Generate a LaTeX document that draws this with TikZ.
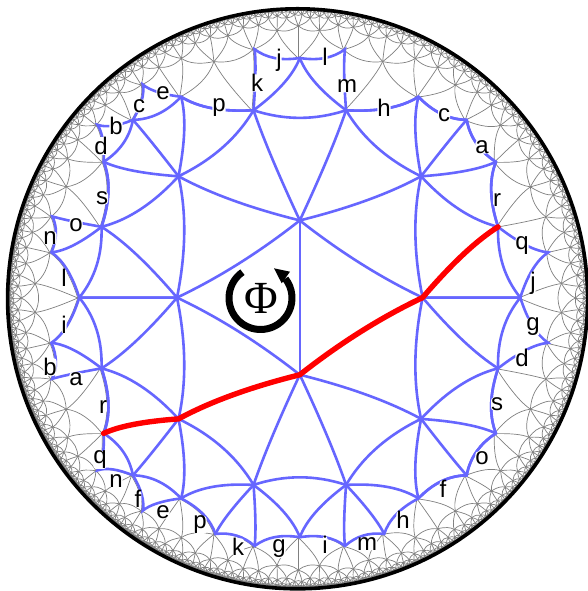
\documentclass[tikz,border=0pt]{standalone}
\usepackage{fontspec}
\setmainfont{Liberation Sans}
\newfontfamily\phifont{Liberation Serif}
\definecolor{gridgray}{HTML}{808080}
\definecolor{edgeblue}{HTML}{6666FF}
\tikzset{
  blueedge/.style={draw=edgeblue,line width=2.6pt,line cap=round,line join=round},
  blueoutline/.style={draw=edgeblue,line width=2.6pt,line join=miter,miter limit=6},
  redpath/.style={draw=red,line width=5.4pt,line cap=round,line join=round},
  rim/.style={draw=black,line width=3.6pt},
  ring/.style={draw=black,line width=7pt},
  lab/.style={font=\fontsize{24}{25}\selectfont,fill=white,inner sep=0pt,rounded corners=3pt,text=black},
}
\makeatletter
\def\RR{19005440}   % disc radius 290pt in sp
\def\OX{19549389}   % grid centre x 298.3pt
\def\OY{19202048}   % grid centre y 293pt
\def\LAM{12469796}  % 2cos(2pi/7) *1e7
\def\KAP{23047650}  % sqrt(2+2cosh a) *1e7
\def\Tm{400000000}
\newcount\qh \newcount\qt
\def\Hx#1{\csname hx@#1\endcsname}
\def\Hy#1{\csname hy@#1\endcsname}
\def\Ht#1{\csname ht@#1\endcsname}
\def\vtx#1#2#3#4{%
  \expandafter\edef\csname hx@#1\endcsname{#2}%
  \expandafter\edef\csname hy@#1\endcsname{#3}%
  \expandafter\edef\csname ht@#1\endcsname{#4}}
\def\refl#1#2#3#4{\vtx{#1}%
  {\the\numexpr(\Hx{#2}+\Hx{#3})*\LAM/10000000-\Hx{#4}\relax}%
  {\the\numexpr(\Hy{#2}+\Hy{#3})*\LAM/10000000-\Hy{#4}\relax}%
  {\the\numexpr(\Ht{#2}+\Ht{#3})*\LAM/10000000-\Ht{#4}\relax}}
\def\mir#1#2#3#4{\vtx{#1}{\the\numexpr#3*\Hx{#2}\relax}{\the\numexpr#4*\Hy{#2}\relax}{\Ht{#2}}}
% geodesic A-B as a cubic through the two ends and the hyperbolic midpoint
\def\geom#1#2#3#4#5#6{%
  \edef\gax{\the\numexpr#1*\RR/(1000000+#3)\relax}%
  \edef\gay{\the\numexpr#2*\RR/(1000000+#3)\relax}%
  \edef\gbx{\the\numexpr#4*\RR/(1000000+#6)\relax}%
  \edef\gby{\the\numexpr#5*\RR/(1000000+#6)\relax}%
  \edef\gmx{\the\numexpr(#1+#4)*10000000/\KAP\relax}%
  \edef\gmy{\the\numexpr(#2+#5)*10000000/\KAP\relax}%
  \edef\gmt{\the\numexpr(#3+#6)*10000000/\KAP\relax}%
  \edef\gmX{\the\numexpr\gmx*\RR/(1000000+\gmt)\relax}%
  \edef\gmY{\the\numexpr\gmy*\RR/(1000000+\gmt)\relax}%
  \edef\gcax{\the\numexpr(4*\gmX-\gbx)/3\relax}%
  \edef\gcay{\the\numexpr(4*\gmY-\gby)/3\relax}%
  \edef\gcbx{\the\numexpr(4*\gmX-\gax)/3\relax}%
  \edef\gcby{\the\numexpr(4*\gmY-\gay)/3\relax}}
\def\gridedge#1#2#3#4#5#6{%
  \edef\key{E\the\numexpr(#1+#4)/100000\relax,\the\numexpr(#2+#5)/100000\relax}%
  \ifcsname\key\endcsname\else
    \expandafter\def\csname\key\endcsname{}%
    \geom{#1}{#2}{#3}{#4}{#5}{#6}%
    \pgfsys@moveto{\the\numexpr\gax+\OX\relax sp}{\the\numexpr\gay+\OY\relax sp}%
    \pgfsys@curveto{\the\numexpr\gcax+\OX\relax sp}{\the\numexpr\gcay+\OY\relax sp}%
                   {\the\numexpr\gcbx+\OX\relax sp}{\the\numexpr\gcby+\OY\relax sp}%
                   {\the\numexpr\gbx+\OX\relax sp}{\the\numexpr\gby+\OY\relax sp}%
    \pgfsys@stroke
  \fi}
\def\nb#1#2#3#4#5#6#7#8#9{%
  \edef\nx{\the\numexpr(#1+#4)*\LAM/10000000-#7\relax}%
  \edef\ny{\the\numexpr(#2+#5)*\LAM/10000000-#8\relax}%
  \edef\nt{\the\numexpr(#3+#6)*\LAM/10000000-#9\relax}%
  \edef\key{T\the\numexpr(#1+#4+\nx)/100000\relax,\the\numexpr(#2+#5+\ny)/100000\relax}%
  \ifcsname\key\endcsname\else
    \expandafter\def\csname\key\endcsname{}%
    \advance\qt1
    \expandafter\xdef\csname q@\the\qt\endcsname{{#1}{#2}{#3}{#4}{#5}{#6}{\nx}{\ny}{\nt}}%
  \fi}
\def\proc#1#2#3#4#5#6#7#8#9{%
  \gridedge{#1}{#2}{#3}{#4}{#5}{#6}%
  \gridedge{#4}{#5}{#6}{#7}{#8}{#9}%
  \gridedge{#7}{#8}{#9}{#1}{#2}{#3}%
  \ifnum#3<\Tm\relax\ifnum#6<\Tm\relax\ifnum#9<\Tm\relax
    \nb{#1}{#2}{#3}{#4}{#5}{#6}{#7}{#8}{#9}%
    \nb{#4}{#5}{#6}{#7}{#8}{#9}{#1}{#2}{#3}%
    \nb{#7}{#8}{#9}{#1}{#2}{#3}{#4}{#5}{#6}%
  \fi\fi\fi}
\def\drawgrid{%
  \qh=0 \qt=2
  \expandafter\xdef\csname q@1\endcsname{{0}{572700}{1152383}{-1031968}{0}{1436996}{0}{-572700}{1152383}}%
  \expandafter\xdef\csname q@2\endcsname{{0}{572700}{1152383}{1031968}{0}{1436996}{0}{-572700}{1152383}}%
  \loop\ifnum\qh<\qt
    \advance\qh1
    \expandafter\expandafter\expandafter\proc\csname q@\the\qh\endcsname
  \repeat}
% named vertices
\def\mkc#1{%
  \edef\tmpx{\the\dimexpr\numexpr\Hx{#1}*\RR/(1000000+\Ht{#1})+\OX\relax sp\relax}%
  \edef\tmpy{\the\dimexpr\numexpr\Hy{#1}*\RR/(1000000+\Ht{#1})+\OY\relax sp\relax}%
  \coordinate (#1) at (\tmpx,\tmpy);}
\def\geostr#1#2{%
  \geom{\Hx{#1}}{\Hy{#1}}{\Ht{#1}}{\Hx{#2}}{\Hy{#2}}{\Ht{#2}}%
  \edef\cax{\the\dimexpr\numexpr\gcax+\OX\relax sp\relax}%
  \edef\cay{\the\dimexpr\numexpr\gcay+\OY\relax sp\relax}%
  \edef\cbx{\the\dimexpr\numexpr\gcbx+\OX\relax sp\relax}%
  \edef\cby{\the\dimexpr\numexpr\gcby+\OY\relax sp\relax}}
\def\bl#1#2{\geostr{#1}{#2}\draw[blueedge] (#1) .. controls (\cax,\cay) and (\cbx,\cby) .. (#2);}
% build a path along a list of vertices
\def\walk#1#2{\def\walkpath{}\def\walkprev{#1}\@for\wv:=#2\do{%
    \geostr{\walkprev}{\wv}%
    \edef\walkpath{\walkpath .. controls (\cax,\cay) and (\cbx,\cby) .. (\wv)}%
    \edef\walkprev{\wv}}}
% one quadrant's interior edges
\def\quadedges#1#2#3#4#5{%
  \bl{#2}{tl#1}\bl{#3}{tl#1}\bl{#2}{tm#1}\bl{tl#1}{tm#1}%
  \bl{tl#1}{v1#1}\bl{tl#1}{v2#1}\bl{tl#1}{v3#1}\bl{tl#1}{v4#1}%
  \bl{#3}{v1#1}\bl{#3}{#4}\bl{#4}{v1#1}\bl{tm#1}{#5}%
  \bl{v1#1}{v2#1}\bl{v2#1}{v3#1}\bl{v3#1}{v4#1}\bl{v4#1}{tm#1}}
\makeatother
\begin{document}
\begin{tikzpicture}
\useasboundingbox (0,0) rectangle (587pt,591pt);
\fill[white] (0,0) rectangle (587pt,591pt);
\makeatletter
\begin{pgfscope}
  \pgfsetlinewidth{0.7pt}
  \pgfsetstrokecolor{gridgray}
  \drawgrid
\end{pgfscope}
\makeatother
% the blue figure sits very slightly off the grid's centre
\def\OX{19647693}% 299.8pt
\def\OY{19228262}% 293.4pt
% vertices
\vtx{a0}{0}{572700}{1152383}
\vtx{b0}{0}{-572700}{1152383}
\vtx{l0}{-1031968}{0}{1436996}
\vtx{r0}{1031968}{0}{1436996}
\refl{tl}{a0}{l0}{b0}
\refl{tm}{a0}{tl}{l0}
\refl{v1}{tl}{l0}{a0}
\refl{v2}{tl}{v1}{l0}
\refl{v3}{tl}{v2}{v1}
\refl{v4}{tl}{v3}{v2}
\refl{l1}{l0}{v1}{tl}
\refl{e2}{v3}{v4}{tl}
\refl{e3}{v2}{v3}{tl}
\refl{e5}{v1}{l1}{l0}
\refl{e4}{v1}{e5}{l1}
\refl{e6}{tm}{v4}{tl}
\refl{e1}{tm}{e6}{v4}
\mir{tmR}{tm}{-1}{1}
\refl{top}{tm}{tmR}{a0}
\mir{bot}{top}{1}{-1}
\mir{l1R}{l1}{-1}{1}
\def\mirrorall#1{%
  \mir{tl#1}{tl}{\sx}{\sy}\mir{tm#1}{tm}{\sx}{\sy}%
  \mir{v1#1}{v1}{\sx}{\sy}\mir{v2#1}{v2}{\sx}{\sy}\mir{v3#1}{v3}{\sx}{\sy}\mir{v4#1}{v4}{\sx}{\sy}%
  \mir{e1#1}{e1}{\sx}{\sy}\mir{e2#1}{e2}{\sx}{\sy}\mir{e3#1}{e3}{\sx}{\sy}\mir{e4#1}{e4}{\sx}{\sy}%
  \mir{e5#1}{e5}{\sx}{\sy}\mir{e6#1}{e6}{\sx}{\sy}%
  \mkc{tl#1}\mkc{tm#1}\mkc{v1#1}\mkc{v2#1}\mkc{v3#1}\mkc{v4#1}%
  \mkc{e1#1}\mkc{e2#1}\mkc{e3#1}\mkc{e4#1}\mkc{e5#1}\mkc{e6#1}}
\def\sx{1}\def\sy{1}\mirrorall{}
\def\sx{-1}\def\sy{1}\mirrorall{R}
\def\sx{1}\def\sy{-1}\mirrorall{D}
\def\sx{-1}\def\sy{-1}\mirrorall{RD}
\mkc{a0}\mkc{b0}\mkc{l0}\mkc{r0}\mkc{l1}\mkc{l1R}\mkc{top}\mkc{bot}
% outline of the polygon: clear the grid inside it first
\walk{top}{e1R,tmR,v4R,v3R,v2R,v1R,e5R,l1R,e5RD,v1RD,v2RD,v3RD,v4RD,e6RD,e1RD,bot,e1D,e6D,v4D,e2D,v3D,e3D,v2D,v1D,e4D,e5D,l1,e5,e4,v1,v2,e3,v3,e2,v4,tm,e1,top}
\edef\cmd{\noexpand\fill[white] (top) \walkpath -- cycle;}\cmd
\let\outlinepath\walkpath
% interior blue edges
\bl{a0}{b0}\bl{a0}{l0}\bl{a0}{r0}\bl{b0}{l0}\bl{b0}{r0}
\quadedges{}{a0}{l0}{l1}{top}
\quadedges{R}{a0}{r0}{l1R}{top}
\quadedges{D}{b0}{l0}{l1}{bot}
\quadedges{RD}{b0}{r0}{l1R}{bot}
\bl{tm}{tmR}\bl{tmD}{tmRD}
\bl{v1}{e5}\bl{v1D}{e5D}
\bl{tmD}{e6D}\bl{tmRD}{e6RD}
\bl{tmD}{e1D}\bl{tmRD}{e1RD}
\edef\cmd{\noexpand\draw[blueoutline] (top) \outlinepath -- cycle;}\cmd
% red path
\walk{v2D}{tlD,b0,r0,v1R}
\edef\cmd{\noexpand\draw[redpath] (v2D) \walkpath;}\cmd
% rim
\coordinate (O) at (297.6pt,292.2pt);
\draw[rim] (O) circle (290pt);
% Phi
\coordinate (phic) at (260.5pt,293pt);
\draw[ring] (phic) ++(125:31.5pt) arc[start angle=125,end angle=398,radius=31.5pt];
\fill[black] (274pt,322.7pt) -- (290pt,319.3pt) -- (281.7pt,307.7pt) -- cycle;
\node[inner sep=0pt,font=\phifont\fontsize{46}{46}\selectfont] (phi) at (261pt,293pt) {Φ};
% labels
\begin{scope}[x=1pt,y=-1pt,yshift=591pt]
\foreach \nm/\px/\py/\tx in {
  A/279/60/j,B/257/83/k,C/219/108/p,D/163/93/e,E/139/106/c,F/116/126/b,G/101/146/d,H/102/198/s,
  I/76/225/o,J/50/238/n,K/64/278/l,
  L/325/57/l,M/347/86/m,N/384/108/h,O1/444/115/c,P/482/147/a,Q/497/200/r,R/522/246/q,S/533/283/j,
  T/64/325/i,U/50/367/b,V/76/379/a,W/103/407/r,X/100/460/q,Y/116/481/n,Z/138/499/f,
  AA/163/512/e,AB/200/525/p,AC/238/547/k,AD/279/549/g,
  AE/533/327/g,AF/522/358/d,AG/497/404/s,AH/482/458/o,AI/443/489/f,AJ/403/520/h,AK/367/544/m,AL/325/545/i}
  {\node[lab] (lb\nm) at (\px,\py) {\tx};}
\end{scope}
\end{tikzpicture}
\end{document}
